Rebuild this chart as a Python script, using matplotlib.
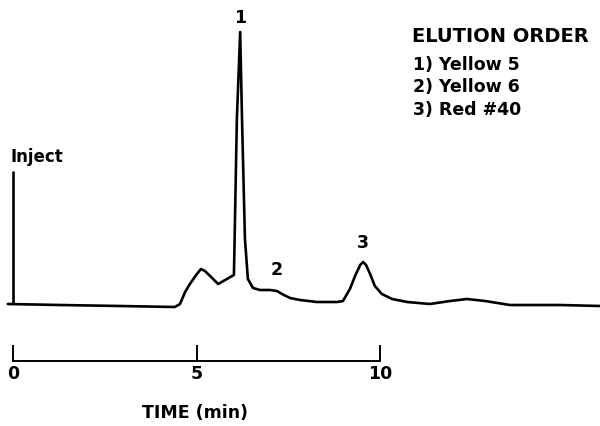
import matplotlib
matplotlib.use("Agg")
import matplotlib.pyplot as plt

# Chromatogram trace (time in min, detector response in arbitrary units)
time_min = [-0.14, 1.28, 2.92, 4.41, 4.55, 4.69, 4.82, 4.99, 5.12, 5.23, 5.37, 5.59, 5.78,
            5.97, 6.02, 6.10, 6.19, 6.24, 6.32, 6.40, 6.54, 6.73, 7.00, 7.19, 7.38, 7.55,
            7.82, 8.28, 8.83, 8.99, 9.18, 9.32, 9.46, 9.54, 9.62, 9.73, 9.86, 10.05, 10.33,
            10.74, 11.36, 11.91, 12.37, 12.86, 13.54, 14.90, 15.99]
response = [0, -1, -2, -3, 0, 12, 20, 29, 35, 33, 28, 20, 24,
            28, 29, 185, 272, 185, 65, 25, 16, 14, 14, 13, 9, 6,
            4, 2, 2, 3, 15, 28, 39, 42, 39, 30, 18, 10, 5,
            2, 0, 3, 5, 3, -1, -1, -2]

inject_time = 0
inject_height = 133

peak_labels = ["1", "2", "3"]
peak_label_time = [6.19, 7.19, 9.54]
peak_label_resp = [287, 35, 62]

time_ticks = [0, 5, 10]
time_ticklabels = ["0", "5", "10"]

legend_title = "ELUTION ORDER"
legend_items = ["1) Yellow 5", "2) Yellow 6", "3) Red #40"]

FONT = "DejaVu Sans"
W, H = 600, 427
fig = plt.figure(figsize=(W / 100, H / 100), dpi=100)

xlim = (-13 / 36.7, (W - 13) / 36.7)

ax = fig.add_axes([0, 0, 1, 1])
ax.set_xlim(*xlim)
ax.set_ylim(-122, 305)
ax.axis("off")

ax.plot(time_min, response, color="black", lw=1.9, solid_joinstyle="round",
        solid_capstyle="round")
ax.vlines(inject_time, 0, inject_height, color="black", lw=1.9)
ax.text(-0.08, 148, "Inject", ha="left", va="center", fontsize=12,
        fontweight="bold", family=FONT)

for lab, t, r in zip(peak_labels, peak_label_time, peak_label_resp):
    ax.text(t, r, lab, ha="center", va="center", fontsize=12.5,
            fontweight="bold", family=FONT)

# legend block
fig.text(412 / W, 1 - 36 / H, legend_title, ha="left", va="center",
         fontsize=14, fontweight="bold", family=FONT)
for i, item in enumerate(legend_items):
    fig.text(413 / W, 1 - (65 + 22.5 * i) / H, item, ha="left", va="center",
             fontsize=12.5, fontweight="bold", family=FONT)

# time scale bar
ax2 = fig.add_axes([0, 1 - 362 / H, 1, 0.05])
ax2.set_xlim(*xlim)
ax2.patch.set_alpha(0)
for s in ["top", "left", "right"]:
    ax2.spines[s].set_visible(False)
ax2.spines["bottom"].set_bounds(time_ticks[0], time_ticks[-1])
ax2.spines["bottom"].set_linewidth(1.4)
ax2.set_yticks([])
ax2.set_xticks(time_ticks)
ax2.set_xticklabels(time_ticklabels, fontsize=12.5, fontweight="bold", family=FONT)
ax2.tick_params(axis="x", direction="in", length=11.5, width=1.4, pad=2)
ax2.set_xlabel("TIME (min)", fontsize=12.5, fontweight="bold", family=FONT)
ax2.xaxis.set_label_coords(195 / W, -1.95)

fig.savefig("out.png", dpi=100)
